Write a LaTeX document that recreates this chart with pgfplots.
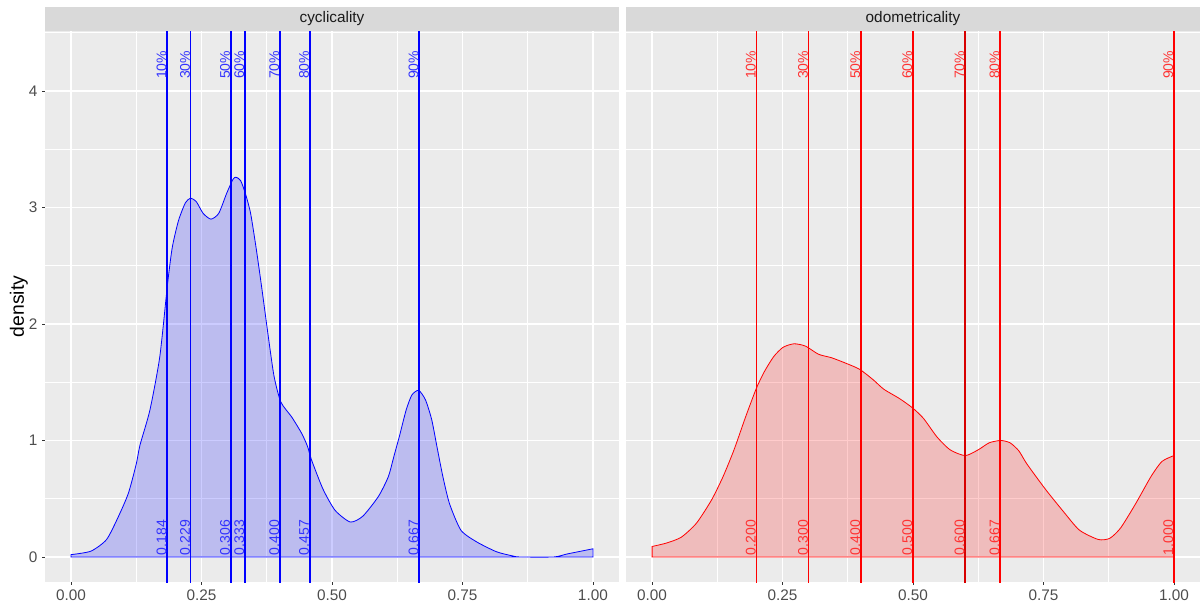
\documentclass[border=0pt]{standalone}
\usepackage{fontspec}
\setmainfont{Liberation Sans}
\usepackage{pgfplots}
\pgfplotsset{compat=1.18}
\definecolor{panelbg}{HTML}{EBEBEB}
\definecolor{stripbg}{HTML}{D9D9D9}
\definecolor{ticklab}{HTML}{4D4D4D}
\definecolor{tickmark}{HTML}{333333}
\definecolor{striptext}{HTML}{1A1A1A}
\definecolor{ggblue}{RGB}{0,0,255}
\definecolor{ggred}{RGB}{255,0,0}
\definecolor{darkred}{RGB}{215,0,0}
\definecolor{labblue}{RGB}{50,50,255}
\definecolor{labred}{RGB}{255,50,50}
\pgfplotsset{ggpanel/.style={
  scale only axis, width=430.5pt, height=413.25pt,
  anchor=south west,
  xmin=-0.05, xmax=1.05, ymin=-0.215, ymax=4.515,
  axis background/.style={fill=panelbg},
  axis line style={draw=none},
  xtick={0,0.25,0.5,0.75,1}, xticklabels={0.00,0.25,0.50,0.75,1.00},
  minor xtick={0.125,0.375,0.625,0.875},
  ytick={0,1,2,3,4}, yticklabels={0,1,2,3,4},
  minor ytick={0.5,1.5,2.5,3.5,4.5},
  grid=both,
  major grid style={white, line width=1.1pt},
  minor grid style={white, line width=0.55pt},
  tick align=outside, major tick length=2.2pt, minor tick length=0pt,
  tick style={tickmark, line width=0.6pt},
  tick pos=left,
  tick label style={font=\fontsize{11.5}{13}\selectfont, text=ticklab},
  /pgf/number format/assume math mode=true,
  clip=true,
}}
\newcommand{\qline}[3][1.2pt]{\addplot[draw=#3, line width=#1] coordinates {(#2,-0.3) (#2,4.6)};}
\newcommand{\toplab}[3]{\node[rotate=90, anchor=south east, inner sep=0.3pt, text=#3, font=\fontsize{10.5}{12}\selectfont] at (axis cs:#1,4.35) {#2};}
\newcommand{\botlab}[3]{\node[rotate=90, anchor=south west, inner sep=0.3pt, text=#3, font=\fontsize{10.5}{12}\selectfont] at (axis cs:#1,0.01) {#2};}
\begin{document}
\begin{tikzpicture}
\useasboundingbox (0,0) rectangle (900.75pt,456pt);
% strips
\fill[stripbg] (33.75pt,432.75pt) rectangle (464.25pt,450.75pt);
\node[text=striptext, font=\fontsize{11.5}{13}\selectfont] at (249pt,441.75pt) {cyclicality};
\fill[stripbg] (469.5pt,432.75pt) rectangle (900pt,450.75pt);
\node[text=striptext, font=\fontsize{11.5}{13}\selectfont] at (684.75pt,441.75pt) {odometricality};
% y label
\node[rotate=90, text=black, font=\fontsize{14.5}{16}\selectfont] at (14.25pt,226.1pt) {density};

\begin{axis}[ggpanel, at={(33.75pt,19.5pt)}]
\addplot[draw=ggblue, line width=0.6pt, fill=ggblue, fill opacity=0.2, draw opacity=1, smooth, tension=0.4] coordinates {
(0,0.02) (0.038,0.05) (0.068,0.15) (0.091,0.35) (0.110,0.55) (0.125,0.80) (0.132,0.96)
(0.151,1.26) (0.170,1.72) (0.185,2.35) (0.194,2.66) (0.206,2.89) (0.219,3.04) (0.229,3.08)
(0.240,3.05) (0.253,2.95) (0.268,2.90) (0.283,2.95) (0.298,3.12) (0.310,3.24) (0.316,3.26)
(0.325,3.23) (0.334,3.12) (0.344,2.95) (0.355,2.64) (0.366,2.29) (0.378,1.89) (0.389,1.55)
(0.402,1.33) (0.423,1.20) (0.442,1.06) (0.453,0.95) (0.461,0.83) (0.483,0.58) (0.506,0.40)
(0.535,0.30) (0.559,0.35) (0.589,0.52) (0.608,0.69) (0.619,0.87) (0.630,1.05) (0.642,1.26)
(0.653,1.39) (0.666,1.43) (0.679,1.35) (0.691,1.18) (0.701,0.95) (0.712,0.70) (0.725,0.46)
(0.747,0.23) (0.777,0.13) (0.815,0.045) (0.845,0.01) (0.86,0.0) (0.925,0.0) (0.951,0.026) (1.0,0.07)
} \closedcycle;
\qline{0.184}{ggblue}
\qline{0.229}{ggblue}
\qline{0.306}{ggblue}
\qline{0.333}{ggblue}
\qline{0.400}{ggblue}
\qline[1.5pt]{0.457}{ggblue}
\qline{0.667}{ggblue}
\toplab{0.184}{10\%}{labblue}
\toplab{0.229}{30\%}{labblue}
\toplab{0.306}{50\%}{labblue}
\toplab{0.333}{60\%}{labblue}
\toplab{0.400}{70\%}{labblue}
\toplab{0.457}{80\%}{labblue}
\toplab{0.667}{90\%}{labblue}
\botlab{0.184}{0.184}{labblue}
\botlab{0.229}{0.229}{labblue}
\botlab{0.306}{0.306}{labblue}
\botlab{0.333}{0.333}{labblue}
\botlab{0.400}{0.400}{labblue}
\botlab{0.457}{0.457}{labblue}
\botlab{0.667}{0.667}{labblue}
\end{axis}

\begin{axis}[ggpanel, at={(469.5pt,19.5pt)}, yticklabels={}, ytick style={draw=none}]
\addplot[draw=ggred, line width=0.6pt, fill=ggred, fill opacity=0.2, draw opacity=1, smooth, tension=0.4] coordinates {
(0,0.09) (0.028,0.12) (0.056,0.17) (0.085,0.29) (0.114,0.49) (0.136,0.69) (0.157,0.92)
(0.179,1.20) (0.200,1.45) (0.215,1.59) (0.233,1.72) (0.251,1.80) (0.272,1.83) (0.294,1.81)
(0.319,1.74) (0.344,1.71) (0.373,1.66) (0.398,1.61) (0.424,1.52) (0.444,1.44) (0.474,1.36)
(0.499,1.28) (0.520,1.19) (0.546,1.03) (0.571,0.92) (0.600,0.87) (0.625,0.92) (0.646,0.98)
(0.668,1.00) (0.686,0.98) (0.703,0.91) (0.718,0.80) (0.754,0.58) (0.790,0.38) (0.819,0.23)
(0.855,0.15) (0.877,0.16) (0.898,0.25) (0.927,0.46) (0.956,0.69) (0.977,0.82) (1.0,0.87)
} \closedcycle;
\qline{0.2}{ggred}
\qline{0.3}{ggred}
\qline{0.4}{ggred}
\qline{0.5}{ggred}
\qline{0.6}{darkred}
\qline{0.667}{ggred}
\qline{1.0}{ggred}
\toplab{0.2}{10\%}{labred}
\toplab{0.3}{30\%}{labred}
\toplab{0.4}{50\%}{labred}
\toplab{0.5}{60\%}{labred}
\toplab{0.6}{70\%}{labred}
\toplab{0.667}{80\%}{labred}
\toplab{1.0}{90\%}{labred}
\botlab{0.2}{0.200}{labred}
\botlab{0.3}{0.300}{labred}
\botlab{0.4}{0.400}{labred}
\botlab{0.5}{0.500}{labred}
\botlab{0.6}{0.600}{labred}
\botlab{0.667}{0.667}{labred}
\botlab{1.0}{1.000}{labred}
\end{axis}
\end{tikzpicture}
\end{document}
